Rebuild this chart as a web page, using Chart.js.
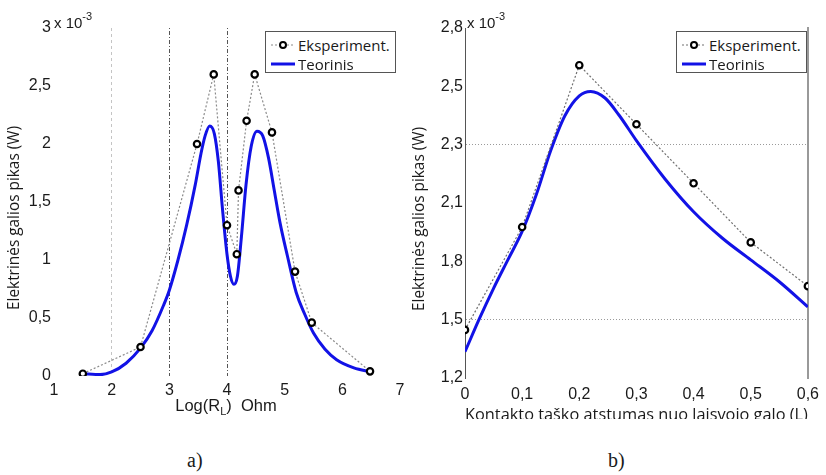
<!DOCTYPE html>
<html lang="lt">
<head>
<meta charset="UTF-8">
<title>Elektrinės galios pikas</title>
<script src="https://cdn.jsdelivr.net/npm/chart.js"></script>
<style>
  body { margin: 0; background: #fff; width: 826px; height: 475px; position: relative; overflow: hidden;
         font-family: "Liberation Sans", Arial, sans-serif; color: #1a1a1a; }
  .panel { position: absolute; top: 0; overflow: hidden; }
  #panelA { left: 0; width: 413px; height: 430px; }
  #panelB { left: 405px; width: 421px; height: 419px; }
  .exp { position: absolute; top: 12px; font-size: 15px; }
  .exp sup { font-size: 11px; position: relative; top: -2px; }
  .legend { position: absolute; top: 31px; width: 129px; height: 40px; border: 1px solid #555; background: #fff;
            font-family: "Open Sans", sans-serif; font-size: 15px; }
  .legend .row { position: absolute; left: 5px; height: 18px; line-height: 18px; white-space: nowrap; }
  .legend svg { vertical-align: middle; margin-right: 3px; }
  .legend span { vertical-align: middle; }
  .xtitle { position: absolute; font-size: 16.5px; text-align: center; }
  .xtitle sub { font-size: 11px; }
  .caption { position: absolute; top: 449px; font-family: "Liberation Serif", serif; font-size: 20px; }
</style>
</head>
<body>
<div class="panel" id="panelA"><canvas id="chartA" width="413" height="430"></canvas></div>
<div class="panel" id="panelB"><canvas id="chartB" width="421" height="430"></canvas></div>

<div class="exp" style="left:54px;">x 10<sup>-3</sup></div>
<div class="exp" style="left:467px;">x 10<sup>-3</sup></div>

<div class="legend" id="legendA" style="left:265px;"></div>
<div class="legend" id="legendB" style="left:676px;"></div>

<div class="xtitle" style="left:126px; top:396px; width:200px;">Log(R<sub>L</sub>)&nbsp;&nbsp;Ohm</div>

<div class="caption" style="left:187px;">a)</div>
<div class="caption" style="left:608px;">b)</div>

<script>
// a) galios pikas nuo apkrovos varžos (x 10^-3 W)
const logR = [1.5, 2.5, 3.48, 3.77, 4.0, 4.17, 4.2, 4.34, 4.48, 4.78, 5.18, 5.47, 6.48];
const expA = [0.02, 0.25, 2.0, 2.6, 1.3, 1.05, 1.6, 2.2, 2.6, 2.1, 0.9, 0.46, 0.04];
const logRTeor = [1.5, 1.8, 2.0, 2.25, 2.5, 2.7, 2.9, 3.0, 3.15, 3.3, 3.45, 3.55, 3.62, 3.7, 3.78, 3.85,
                  3.92, 4.0, 4.06, 4.12, 4.18, 4.25, 4.33, 4.42, 4.52, 4.62, 4.72, 4.82, 4.92, 5.05,
                  5.2, 5.35, 5.5, 5.7, 5.9, 6.2, 6.5];
const teorA = [0.02, 0.012, 0.035, 0.11, 0.24, 0.39, 0.61, 0.74, 1.0, 1.3, 1.65, 1.92, 2.07, 2.155, 2.09, 1.85,
               1.45, 1.05, 0.86, 0.79, 0.86, 1.2, 1.65, 1.98, 2.11, 2.07, 1.88, 1.6, 1.32, 1.03,
               0.72, 0.53, 0.37, 0.23, 0.14, 0.07, 0.035];
const xTicksA = ['1', '2', '3', '4', '5', '6', '7'];
const yTicksA = ['0', '0,5', '1', '1,5', '2', '2,5', '3'];

// b) galios pikas nuo kontakto taško atstumo (x 10^-3 W)
const atstumas = [0, 0.1, 0.2, 0.3, 0.4, 0.5, 0.6];
const expB = [1.42, 1.89, 2.63, 2.36, 2.09, 1.82, 1.62];
const atstumasTeor = [0, 0.025, 0.05, 0.075, 0.1, 0.125, 0.15, 0.175, 0.2, 0.22, 0.245, 0.27, 0.3,
                      0.35, 0.4, 0.45, 0.5, 0.55, 0.6];
const teorB = [1.32, 1.47, 1.61, 1.74, 1.87, 2.04, 2.24, 2.4, 2.49, 2.51, 2.48, 2.4, 2.285,
               2.11, 1.96, 1.84, 1.74, 1.64, 1.525];
const xTicksB = ['0', '0,1', '0,2', '0,3', '0,4', '0,5', '0,6'];
const yTicksB = ['1,2', '1,5', '1,8', '2,1', '2,3', '2,5', '2,8'];

const labels = ['Eksperiment.', 'Teorinis'];
const blue = '#1212e6';

Chart.defaults.font.family = '"Liberation Sans", Arial, sans-serif';
Chart.defaults.font.size = 16;
Chart.defaults.color = '#1a1a1a';

const pts = (xs, ys) => xs.map((x, i) => ({x: x, y: ys[i]}));
// tarpai gale nustumia pasuktą užrašą žemyn
const yTitle = {
    display: true,
    text: 'Elektrinės galios pikas (W)        ',
    font: {family: '"Open Sans", sans-serif', size: 15.4},
    color: '#1a1a1a',
    padding: {top: 5, bottom: 0}
};

function expSet(xs, ys, lineColor) {
    return {
        label: labels[0], data: pts(xs, ys),
        borderColor: lineColor, borderWidth: 1.2, borderDash: [2, 2],
        pointRadius: 3.2, pointBorderWidth: 2.2, pointBorderColor: '#000', pointBackgroundColor: '#fff',
        tension: 0
    };
}
function teorSet(xs, ys) {
    return {
        label: labels[1], data: pts(xs, ys),
        borderColor: blue, borderWidth: 3, pointRadius: 0, cubicInterpolationMode: 'monotone'
    };
}

const gridA = {2: '#c4c4c4', 3: '#555', 4: '#555'};

new Chart(document.getElementById('chartA'), {
    type: 'line',
    data: {datasets: [expSet(logR, expA, '#8a8a8a'), teorSet(logRTeor, teorA)]},
    options: {
        responsive: false, animation: false,
        layout: {padding: {top: 28, right: 13, bottom: 0, left: 0}},
        plugins: {legend: {display: false}, tooltip: {enabled: false}},
        scales: {
            x: {
                type: 'linear', min: 1, max: 7,
                ticks: {stepSize: 1, padding: 5, maxRotation: 0, autoSkip: false,
                        callback: (v, i) => xTicksA[i]},
                grid: {drawTicks: false, lineWidth: 1,
                       color: c => (c.tick && gridA[c.tick.value]) || 'rgba(0,0,0,0)'},
                border: {display: false, dash: c => (c.tick && c.tick.value === 2) ? [3, 3] : [1, 2, 4, 2]},
                afterFit: s => { s.height = 54; }
            },
            y: {
                min: 0, max: 3,
                ticks: {stepSize: 0.5, padding: 3, callback: (v, i) => yTicksA[i]},
                grid: {display: false, drawTicks: false},
                border: {display: false},
                title: yTitle,
                afterFit: s => { s.width = 54; }
            }
        }
    }
});

new Chart(document.getElementById('chartB'), {
    type: 'line',
    data: {datasets: [expSet(atstumas, expB, '#707070'), teorSet(atstumasTeor, teorB)]},
    options: {
        responsive: false, animation: false,
        layout: {padding: {top: 28, right: 15, bottom: 0, left: 0}},
        plugins: {legend: {display: false}, tooltip: {enabled: false}},
        scales: {
            x: {
                type: 'linear', min: 0, max: 0.6,
                ticks: {stepSize: 0.1, padding: 7, maxRotation: 0, autoSkip: false,
                        callback: (v, i) => xTicksB[i]},
                grid: {display: false, drawTicks: false},
                border: {display: false},
                title: {display: true, text: 'Kontakto taško atstumas nuo laisvojo galo (L)',
                        font: {family: '"Open Sans", sans-serif', size: 17}, color: '#1a1a1a',
                        padding: {top: 0, bottom: 5}},
                afterFit: s => { s.height = 52; }
            },
            y: {
                min: 1.2, max: 2.8,
                ticks: {count: 7, padding: 2, callback: (v, i) => yTicksB[i]},
                grid: {drawTicks: false, lineWidth: 1,
                       color: c => (c.index === 1 || c.index === 4) ? '#9a9a9a' : 'rgba(0,0,0,0)'},
                border: {display: true, color: '#555', width: 1, dash: c => c.tick ? [1, 2] : []},
                title: yTitle,
                afterFit: s => { s.width = 60; }
            },
            yR: {
                position: 'right', min: 1.2, max: 2.8,
                ticks: {display: false},
                grid: {display: false, drawTicks: false},
                border: {display: true, color: '#999', width: 2},
                afterFit: s => { s.width = 0; }
            }
        }
    }
});

// legendos langeliai
function legendHtml(lineColor) {
    const expIcon = '<svg width="24" height="10"><line x1="0" y1="5" x2="24" y2="5" stroke="' + lineColor +
        '" stroke-width="1.2" stroke-dasharray="2,2"/><circle cx="12" cy="5" r="3" fill="#fff" stroke="#000" stroke-width="2"/></svg>';
    const teorIcon = '<svg width="24" height="10"><line x1="0" y1="5" x2="24" y2="5" stroke="' + blue +
        '" stroke-width="3"/></svg>';
    return '<div class="row" style="top:2px;">' + expIcon + '<span>' + labels[0] + '</span></div>' +
           '<div class="row" style="top:21px;">' + teorIcon + '<span>' + labels[1] + '</span></div>';
}
document.getElementById('legendA').innerHTML = legendHtml('#8a8a8a');
document.getElementById('legendB').innerHTML = legendHtml('#707070');
</script>
</body>
</html>
